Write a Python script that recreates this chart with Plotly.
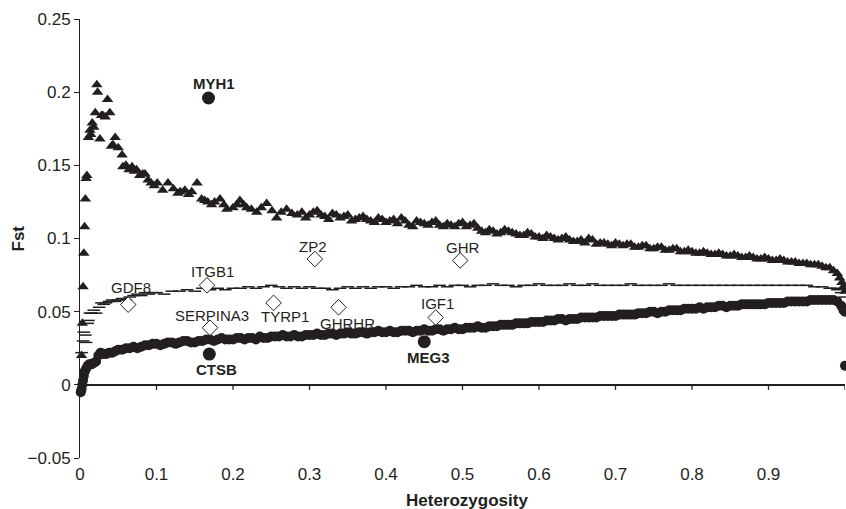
import plotly.graph_objects as go

# ---------------- data ----------------
# upper quantile (triangles)
het_upper = [0.002,0.003,0.004,0.005,0.006,0.007,0.008,0.009,0.011,0.013,0.014,0.016,0.018,0.020,0.022,0.023,
             0.026,0.028,0.030,0.033,0.036,0.039,0.041,0.043,0.046,0.050,0.055,0.056,0.060,0.064,0.068,0.071,
             0.074,0.078,0.082,0.085,0.089,0.093,0.097,
             0.101,0.108,0.115,0.122,0.128,0.131,0.137,0.142,0.146,0.153,0.159,0.163,0.167,0.172,0.176,0.183,
             0.188,0.192,0.200,0.205,0.209,0.214,0.218,0.224,0.231,0.237,0.244,0.251,0.257,0.263,0.270,0.277,0.284,
             0.29,0.30,0.31,0.32,0.33,0.34,0.35,0.36,0.37,0.38,0.39,0.40,0.41,0.42,0.43,0.44,0.45,0.46,0.47,0.48,
             0.49,0.50,0.51,0.52,0.53,0.54,0.55,0.56,0.57,0.58,0.59,0.60,0.61,0.62,0.63,0.64,0.65,0.66,0.67,0.68,
             0.69,0.70,0.71,0.72,0.73,0.74,0.75,0.76,0.77,0.78,0.79,0.80,0.81,0.82,0.83,0.84,0.85,0.86,0.87,0.88,
             0.89,0.90,0.91,0.92,0.93,0.94,0.95,0.96,0.97,0.98,0.985,0.99,0.993,0.996,0.998,1.0]
fst_upper = [0.020,0.042,0.067,0.090,0.108,0.127,0.141,0.143,0.169,0.174,0.171,0.179,0.176,0.186,0.205,0.200,
             0.168,0.184,0.184,0.183,0.195,0.186,0.163,0.164,0.169,0.162,0.157,0.149,0.150,0.147,0.149,0.146,
             0.147,0.143,0.144,0.144,0.140,0.138,0.136,
             0.138,0.133,0.138,0.134,0.131,0.132,0.133,0.130,0.132,0.138,0.127,0.126,0.125,0.123,0.125,0.127,
             0.123,0.120,0.121,0.123,0.126,0.123,0.121,0.120,0.118,0.121,0.124,0.119,0.114,0.118,0.120,0.117,0.116,
             0.118,0.116,0.119,0.115,0.117,0.114,0.116,0.113,0.115,0.112,0.114,0.111,0.113,0.114,0.109,0.112,0.110,0.111,0.109,0.110,
             0.108,0.111,0.109,0.107,0.104,0.105,0.104,0.105,0.103,0.102,0.103,0.101,0.102,0.100,0.100,0.099,0.098,0.097,0.099,0.097,
             0.096,0.097,0.095,0.096,0.094,0.095,0.093,0.094,0.092,0.093,0.091,0.091,0.090,0.090,0.089,0.089,0.088,0.088,0.087,0.087,
             0.086,0.086,0.085,0.085,0.084,0.083,0.083,0.082,0.081,0.080,0.078,0.076,0.073,0.070,0.067,0.064]
# extra upper-quantile bins (half steps)
het_upper_b = [0.295,0.305,0.315,0.325,0.335,0.345,0.355,0.365,0.375,0.385,0.395,
               0.405,0.415,0.425,0.435,0.445,0.455,0.465,0.475,0.485,0.495,
               0.505,0.515,0.525,0.535,0.545,0.555,0.565,0.575,0.585,0.595,
               0.605,0.615,0.625,0.635,0.645,0.655,0.665,0.675,0.685,0.695,
               0.705,0.715,0.725,0.735,0.745,0.755,0.765,0.775,0.785,0.795,
               0.805,0.815,0.825,0.835,0.845,0.855,0.865,0.875,0.885,0.895,
               0.905,0.915,0.925,0.935,0.945,0.955,0.965,0.975]
fst_upper_b = [0.114,0.118,0.116,0.113,0.116,0.115,0.112,0.114,0.113,0.111,0.113,
               0.112,0.110,0.112,0.108,0.111,0.109,0.112,0.108,0.109,0.110,
               0.108,0.110,0.105,0.106,0.103,0.106,0.104,0.102,0.104,0.101,
               0.100,0.101,0.099,0.101,0.098,0.099,0.100,0.096,0.097,0.095,
               0.096,0.096,0.094,0.095,0.093,0.094,0.092,0.093,0.091,0.092,
               0.090,0.091,0.089,0.090,0.088,0.089,0.087,0.088,0.086,0.087,
               0.085,0.086,0.084,0.084,0.083,0.082,0.082,0.080]

# median (dashes)
het_median = [0.002,0.004,0.005,0.007,0.008,0.010,0.011,0.013,0.015,0.018,0.021,0.025,0.028,0.031,0.034,0.038,
              0.042,0.046,0.050,0.055,0.060,0.065,0.070,0.075,0.080,0.085,0.090,0.095,
              0.10,0.11,0.12,0.13,0.14,0.15,0.16,0.17,0.18,0.19,0.20,0.21,0.22,0.23,0.24,0.25,0.26,0.27,0.28,0.29,
              0.30,0.31,0.32,0.33,0.34,0.35,0.36,0.37,0.38,0.39,0.40,0.41,0.42,0.43,0.44,0.45,0.46,0.47,0.48,0.49,
              0.50,0.51,0.52,0.53,0.54,0.55,0.56,0.57,0.58,0.59,0.60,0.61,0.62,0.63,0.64,0.65,0.66,0.67,0.68,0.69,
              0.70,0.71,0.72,0.73,0.74,0.75,0.76,0.77,0.78,0.79,0.80,0.81,0.82,0.83,0.84,0.85,0.86,0.87,0.88,0.89,
              0.90,0.91,0.92,0.93,0.94,0.95,0.96,0.97,0.98,0.985,0.99,0.995,1.0]
fst_median = [0.022,0.030,0.036,0.034,0.029,0.042,0.044,0.049,0.049,0.051,0.049,0.053,0.056,0.055,0.056,0.057,
              0.058,0.057,0.058,0.059,0.058,0.060,0.061,0.062,0.061,0.063,0.062,0.063,
              0.063,0.062,0.064,0.064,0.065,0.064,0.066,0.065,0.066,0.065,0.066,0.066,0.067,0.066,0.067,0.068,0.067,0.066,0.067,0.066,
              0.067,0.066,0.066,0.065,0.066,0.067,0.066,0.067,0.066,0.067,0.067,0.066,0.067,0.067,0.068,0.067,0.067,0.068,0.067,0.068,
              0.068,0.067,0.068,0.068,0.069,0.068,0.068,0.067,0.068,0.068,0.069,0.068,0.068,0.068,0.069,0.068,0.068,0.069,0.068,0.068,
              0.068,0.068,0.069,0.068,0.068,0.068,0.068,0.069,0.068,0.068,0.068,0.068,0.068,0.068,0.068,0.068,0.068,0.068,0.068,0.068,
              0.068,0.068,0.068,0.068,0.068,0.068,0.067,0.067,0.066,0.066,0.065,0.063,0.060]

# lower quantile (circles)
het_lower = [0.001,0.002,0.003,0.004,0.005,0.006,0.008,0.010,0.012,0.015,0.018,0.021,0.024,0.027,0.030,0.034,
             0.038,0.042,0.046,0.050,0.055,0.060,0.065,0.070,0.075,0.080,0.085,0.090,0.095,
             0.10,0.11,0.12,0.13,0.14,0.15,0.16,0.17,0.18,0.19,0.20,0.21,0.22,0.23,0.24,0.25,0.26,0.27,0.28,0.29,
             0.30,0.31,0.32,0.33,0.34,0.35,0.36,0.37,0.38,0.39,0.40,0.41,0.42,0.43,0.44,0.45,0.46,0.47,0.48,0.49,
             0.50,0.51,0.52,0.53,0.54,0.55,0.56,0.57,0.58,0.59,0.60,0.61,0.62,0.63,0.64,0.65,0.66,0.67,0.68,0.69,
             0.70,0.71,0.72,0.73,0.74,0.75,0.76,0.77,0.78,0.79,0.80,0.81,0.82,0.83,0.84,0.85,0.86,0.87,0.88,0.89,
             0.90,0.91,0.92,0.93,0.94,0.95,0.96,0.97,0.98,0.985,0.99,0.995,0.998,1.0,1.0]
fst_lower = [-0.005,-0.003,0.000,0.003,0.006,0.009,0.011,0.013,0.014,0.014,0.015,0.016,0.020,0.022,0.021,0.021,
             0.022,0.022,0.023,0.024,0.024,0.025,0.025,0.026,0.025,0.026,0.027,0.027,0.028,
             0.028,0.028,0.029,0.029,0.030,0.029,0.030,0.031,0.031,0.031,0.031,0.032,0.032,0.031,0.032,0.033,0.033,0.033,0.034,0.033,
             0.034,0.035,0.034,0.035,0.035,0.036,0.035,0.036,0.036,0.037,0.036,0.036,0.037,0.037,0.037,0.038,0.037,0.038,0.038,0.039,
             0.038,0.039,0.040,0.039,0.040,0.041,0.041,0.042,0.042,0.043,0.043,0.044,0.044,0.045,0.045,0.045,0.046,0.046,0.047,0.047,
             0.047,0.048,0.048,0.049,0.049,0.050,0.050,0.051,0.051,0.052,0.052,0.053,0.053,0.053,0.054,0.054,0.054,0.055,0.055,0.055,
             0.056,0.056,0.056,0.057,0.057,0.057,0.058,0.058,0.058,0.058,0.057,0.054,0.051,0.050,0.013]
# extra lower-quantile bins (half steps)
het_lower_b = [0.105,0.115,0.125,0.135,0.145,0.155,0.165,0.175,0.185,0.195,
               0.205,0.215,0.225,0.235,0.245,0.255,0.265,0.275,0.285,0.295,
               0.305,0.315,0.325,0.335,0.345,0.355,0.365,0.375,0.385,0.395,
               0.405,0.415,0.425,0.435,0.445,0.455,0.465,0.475,0.485,0.495,
               0.505,0.515,0.525,0.535,0.545,0.555,0.565,0.575,0.585,0.595,
               0.605,0.615,0.625,0.635,0.645,0.655,0.665,0.675,0.685,0.695,
               0.705,0.715,0.725,0.735,0.745,0.755,0.765,0.775,0.785,0.795,
               0.805,0.815,0.825,0.835,0.845,0.855,0.865,0.875,0.885,0.895,
               0.905,0.915,0.925,0.935,0.945,0.955,0.965,0.975]
fst_lower_b = [0.027,0.029,0.028,0.030,0.029,0.030,0.031,0.030,0.032,0.031,
               0.032,0.031,0.032,0.033,0.032,0.033,0.034,0.033,0.033,0.034,
               0.034,0.034,0.035,0.034,0.035,0.035,0.036,0.035,0.036,0.036,
               0.037,0.036,0.037,0.036,0.037,0.037,0.038,0.037,0.038,0.038,
               0.039,0.039,0.039,0.040,0.040,0.041,0.041,0.042,0.042,0.043,
               0.043,0.044,0.045,0.044,0.045,0.046,0.046,0.046,0.047,0.047,
               0.048,0.048,0.048,0.049,0.050,0.049,0.050,0.051,0.051,0.052,
               0.052,0.052,0.053,0.054,0.053,0.054,0.055,0.055,0.055,0.055,
               0.056,0.056,0.057,0.057,0.057,0.058,0.058,0.058]

# candidate genes (open diamonds)
genes_open = ["GDF8", "ITGB1", "SERPINA3", "TYRP1", "ZP2", "GHR", "GHRHR", "IGF1"]
het_open = [0.063, 0.166, 0.170, 0.253, 0.307, 0.497, 0.338, 0.465]
fst_open = [0.0548, 0.068, 0.039, 0.056, 0.086, 0.085, 0.053, 0.046]

# outlier genes (filled circles)
genes_bold = ["MYH1", "CTSB", "MEG3"]
het_bold = [0.168, 0.169, 0.450]
fst_bold = [0.196, 0.021, 0.0295]

# x-axis ticks
x_ticks = [0, 0.1, 0.2, 0.3, 0.4, 0.5, 0.6, 0.7, 0.8, 0.9, 1]

# label offsets in pixels (style)
label_shift_open = {"GDF8": (3, 17), "ITGB1": (6, 14), "SERPINA3": (2, 12), "TYRP1": (11, -14),
                    "ZP2": (-2, 12), "GHR": (3, 13), "GHRHR": (9, -16), "IGF1": (2, 14)}
label_shift_bold = {"MYH1": (5, 15), "CTSB": (7, -15), "MEG3": (4, -16)}

Y_RANGE = [-0.05, 0.25]

INK = "#231f20"
FONT = "Liberation Sans, Arial, sans-serif"

fig = go.Figure()
fig.add_trace(go.Scatter(x=het_upper + het_upper_b, y=fst_upper + fst_upper_b, mode="markers", cliponaxis=False,
                         marker=dict(symbol="triangle-up", size=10, color=INK, line=dict(width=0))))
fig.add_trace(go.Scatter(x=het_median, y=fst_median, mode="markers", cliponaxis=False,
                         marker=dict(symbol="line-ew", size=9, color=INK, line=dict(width=1.5, color=INK))))
fig.add_trace(go.Scatter(x=het_lower + het_lower_b, y=fst_lower + fst_lower_b, mode="markers", cliponaxis=False,
                         marker=dict(symbol="circle", size=10, color=INK, line=dict(width=0))))
fig.add_trace(go.Scatter(x=het_open, y=fst_open, mode="markers", cliponaxis=False,
                         marker=dict(symbol="diamond", size=12, color="white", line=dict(width=1, color=INK))))
fig.add_trace(go.Scatter(x=het_bold, y=fst_bold, mode="markers", cliponaxis=False,
                         marker=dict(symbol="circle", size=13, color=INK, line=dict(width=0))))

for g, xv, yv in zip(genes_open, het_open, fst_open):
    dx, dy = label_shift_open[g]
    fig.add_annotation(x=xv, y=yv, text=g, showarrow=False, xshift=dx, yshift=dy,
                       font=dict(family=FONT, size=15, color=INK))
for g, xv, yv in zip(genes_bold, het_bold, fst_bold):
    dx, dy = label_shift_bold[g]
    fig.add_annotation(x=xv, y=yv, text="<b>%s</b>" % g, showarrow=False, xshift=dx, yshift=dy,
                       font=dict(family=FONT, size=15, color=INK))

# axis titles
fig.add_annotation(xref="paper", yref="paper", x=0.5, y=0, yanchor="middle", yshift=-42, xshift=4,
                   text="<b>Heterozygosity</b>", showarrow=False, font=dict(family=FONT, size=17, color=INK))
fig.add_annotation(xref="paper", yref="paper", x=0, y=0.5, xanchor="center", xshift=-62,
                   text="<b>Fst</b>", textangle=-90, showarrow=False, font=dict(family=FONT, size=17, color=INK))

# horizontal axis line at Fst = 0 with downward tick marks
fig.add_shape(type="line", xref="x domain", yref="y", x0=0, x1=1, y0=0, y1=0,
              line=dict(color=INK, width=1.6), layer="above")
for t in x_ticks:
    fig.add_shape(type="line", xref="x", yref="y", x0=t, x1=t, ysizemode="pixel", yanchor=0,
                  y0=0, y1=-5, line=dict(color=INK, width=1.3), layer="above")

fig.update_layout(
    width=846, height=509,
    margin=dict(l=80, r=1, t=19, b=51),
    paper_bgcolor="white", plot_bgcolor="white",
    showlegend=False,
    font=dict(family=FONT, size=17, color=INK),
    xaxis=dict(range=[0, 1], tickvals=x_ticks, anchor="y", side="bottom",
               showline=False, ticks="", showgrid=False, zeroline=False, ticklabelstandoff=4,
               tickfont=dict(family=FONT, size=17, color=INK)),
    yaxis=dict(range=Y_RANGE, dtick=0.05, tick0=0, showline=True, linecolor=INK, linewidth=1,
               ticks="outside", ticklen=5, tickcolor=INK, showgrid=False,
               zeroline=True, zerolinecolor=INK, zerolinewidth=1.6,
               tickfont=dict(family=FONT, size=17, color=INK)),
)

fig.write_html("out.html", config={"displayModeBar": False},
               post_script="document.body.style.margin='0';document.body.style.overflow='hidden';")
